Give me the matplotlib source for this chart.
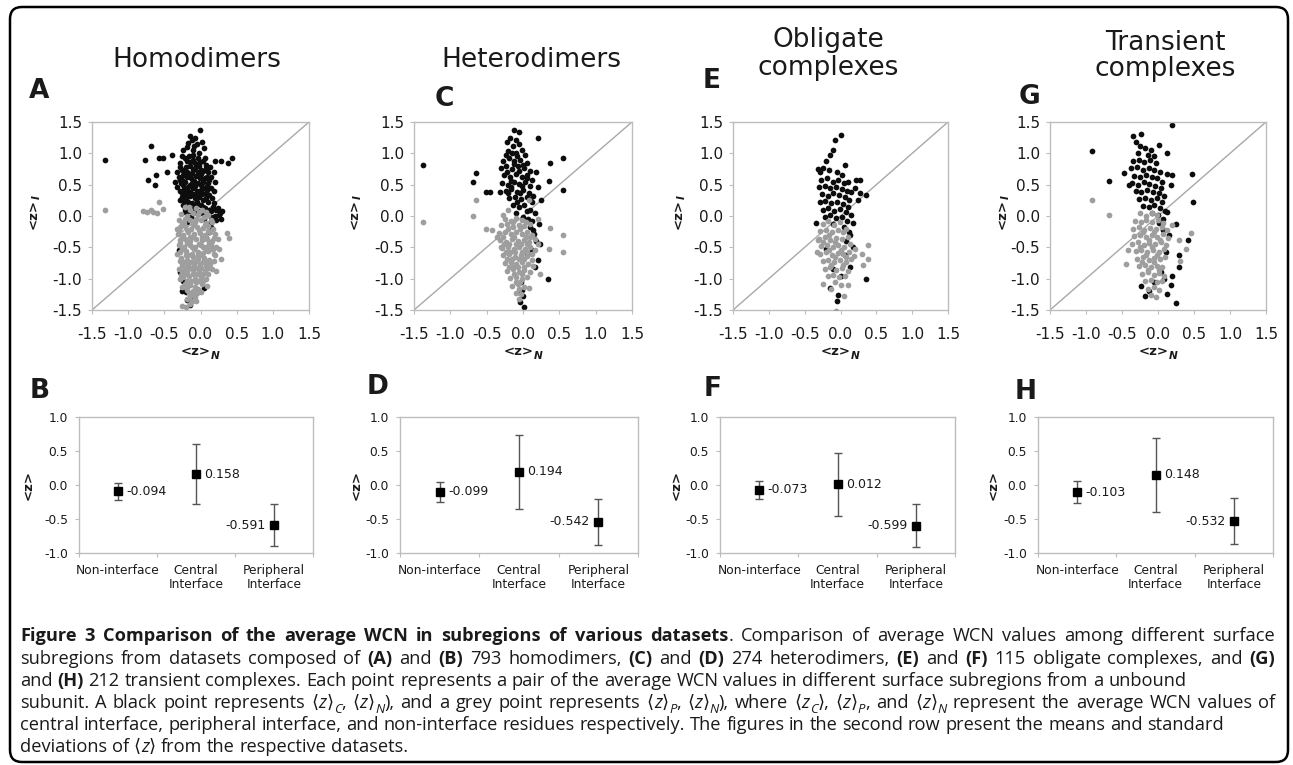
import re
import statistics
import matplotlib
matplotlib.use("Agg")
import matplotlib.pyplot as plt
from matplotlib.patches import FancyBboxPatch
from matplotlib.transforms import IdentityTransform

# ---------------------------------------------------------------- data
titles = [["Homodimers"], ["Heterodimers"], ["Obligate", "complexes"], ["Transient", "complexes"]]
top_letters = ["A", "C", "E", "G"]
bottom_letters = ["B", "D", "F", "H"]
axis_ticks = [-1.5, -1.0, -0.5, 0.0, 0.5, 1.0, 1.5]
axis_tick_labels = ["-1.5", "-1.0", "-0.5", "0.0", "0.5", "1.0", "1.5"]
mean_ticks = [-1.0, -0.5, 0.0, 0.5, 1.0]
mean_tick_labels = ["-1.0", "-0.5", "0.0", "0.5", "1.0"]
subregions = ["Non-interface", "Central\nInterface", "Peripheral\nInterface"]

# (<z>_N, <z>_C) black points
homo_central = [
    (-1.32, 0.89), (-0.68, 1.12), (-0.77, 0.89), (-0.58, 0.92), (-0.52, 0.92), (-0.72, 0.58), (-0.61, 0.66),
    (-0.63, 0.49), (-0.47, 0.71), (-0.39, 0.98), (0.20, 0.87), (0.29, 0.87), (0.43, 0.93), (0.38, 0.84),
    (0.18, 0.71), (0.27, 0.05), (0.20, 0.00), (-0.01, 1.38), (0.22, 0.10), (0.25, 0.02), (0.28, -0.04),
    (0.24, 0.13), (0.30, 0.08), (0.21, -0.06), (-0.15, 1.28), (-0.12, 1.22), (-0.08, 1.25), (-0.05, 1.15),
    (-0.19, 1.10), (0.02, 1.18), (-0.10, 1.05), (0.05, 1.08), (-0.24, 1.05), (-0.02, 1.00),
    (-0.28, 0.85), (-0.22, 0.92), (-0.16, 0.95), (-0.10, 0.90), (-0.04, 0.93), (0.03, 0.88), (0.08, 0.82),
    (-0.26, 0.74), (-0.20, 0.78), (-0.14, 0.80), (-0.08, 0.76), (-0.02, 0.79), (0.04, 0.72), (0.10, 0.70),
    (-0.30, 0.62), (-0.24, 0.66), (-0.18, 0.63), (-0.12, 0.68), (-0.06, 0.64), (0.00, 0.67), (0.06, 0.60),
    (0.12, 0.58), (-0.27, 0.52), (-0.21, 0.55), (-0.15, 0.50), (-0.09, 0.56), (-0.03, 0.52), (0.03, 0.54),
    (0.09, 0.48), (0.14, 0.45), (-0.29, 0.40), (-0.23, 0.43), (-0.17, 0.38), (-0.11, 0.44), (-0.05, 0.40),
    (0.01, 0.42), (0.07, 0.36), (0.12, 0.33), (-0.26, 0.30), (-0.20, 0.27), (-0.14, 0.32), (-0.08, 0.28),
    (-0.02, 0.30), (0.04, 0.25), (0.10, 0.22), (0.16, 0.28), (-0.24, 0.18), (-0.18, 0.15), (-0.12, 0.20),
    (-0.06, 0.16), (0.00, 0.18), (0.06, 0.12), (0.12, 0.10), (0.17, 0.15), (-0.22, 0.06), (-0.16, 0.08),
    (-0.10, 0.04), (-0.04, 0.08), (0.02, 0.05), (0.08, 0.02), (0.14, -0.02), (-0.19, 0.70), (-0.13, 0.60),
    (-0.07, 0.48), (-0.01, 0.60), (0.05, 0.45), (-0.25, 0.58), (-0.17, 0.46), (-0.11, 0.35), (-0.05, 0.22),
    (0.02, 0.35), (-0.20, 0.35), (-0.15, 0.86), (-0.07, 0.84), (0.00, 0.74), (-0.23, 0.24), (-0.32, 0.47),
    (-0.33, 0.70), (0.15, 0.62), (0.18, 0.40), (0.13, 0.78), (-0.18, -0.10), (0.10, -0.12), (0.12, -0.25),
    (0.08, -0.35), (0.15, -0.18), (-0.26, -1.20), (-0.19, -1.34), (-0.15, -1.42), (-0.24, -1.04),
    (-0.20, -1.22), (-0.12, -1.30), (-0.28, -0.90), (-0.30, -0.55), (0.05, -1.15),
    (-0.25, 0.95), (-0.19, 0.88), (-0.11, 0.97), (-0.01, 0.86), (0.06, 0.93), (-0.29, 0.78), (-0.23, 0.71),
    (-0.10, 0.73), (0.07, 0.77), (-0.28, 0.57), (-0.15, 0.64), (-0.04, 0.70), (0.09, 0.63), (-0.24, 0.49),
    (-0.12, 0.52), (0.00, 0.49), (0.11, 0.52), (-0.26, 0.36), (-0.14, 0.39), (-0.02, 0.37), (0.09, 0.41),
    (-0.28, 0.26), (-0.17, 0.22), (-0.05, 0.33), (0.07, 0.28), (-0.21, 0.11), (-0.09, 0.12), (0.03, 0.14),
    (0.15, 0.08), (-0.13, -0.02), (0.05, -0.05), (0.19, 0.20), (0.20, 0.55), (-0.35, 0.55), (-0.09, 1.12),
    (-0.17, 1.17),
]
# (<z>_N, <z>_P) grey points
homo_peripheral = [
    (-1.32, 0.09), (-0.79, 0.08), (-0.74, 0.07), (-0.69, 0.10), (-0.65, 0.06), (-0.60, 0.05), (-0.58, 0.23),
    (-0.52, 0.11), (0.36, -0.27), (0.40, -0.35), (0.25, -0.52), (0.29, -0.68), (0.22, -0.87), (-0.26, -1.43),
    (-0.20, -1.45), (-0.14, -1.40), (-0.22, 0.14), (-0.14, 0.10), (-0.06, 0.13), (0.02, 0.09), (-0.27, 0.03),
    (-0.19, 0.00), (-0.11, 0.04), (-0.03, 0.01), (0.05, -0.02), (0.11, 0.02), (-0.30, -0.07), (-0.23, -0.10),
    (-0.15, -0.06), (-0.07, -0.09), (0.01, -0.07), (0.08, -0.11), (0.14, -0.06), (-0.28, -0.18), (-0.21, -0.16),
    (-0.13, -0.20), (-0.05, -0.17), (0.03, -0.19), (0.10, -0.16), (0.17, -0.21), (-0.31, -0.28), (-0.24, -0.30),
    (-0.17, -0.26), (-0.09, -0.29), (-0.01, -0.27), (0.06, -0.30), (0.13, -0.26), (0.20, -0.29), (-0.29, -0.38),
    (-0.22, -0.36), (-0.14, -0.40), (-0.06, -0.37), (0.02, -0.39), (0.09, -0.36), (0.16, -0.40), (0.24, -0.37),
    (-0.30, -0.47), (-0.23, -0.50), (-0.15, -0.46), (-0.07, -0.49), (0.00, -0.47), (0.07, -0.50), (0.14, -0.46),
    (0.21, -0.49), (-0.28, -0.58), (-0.20, -0.56), (-0.12, -0.60), (-0.04, -0.57), (0.04, -0.59), (0.11, -0.56),
    (0.18, -0.60), (-0.27, -0.67), (-0.19, -0.70), (-0.11, -0.66), (-0.03, -0.69), (0.05, -0.67), (0.12, -0.70),
    (0.18, -0.72), (-0.25, -0.78), (-0.17, -0.76), (-0.09, -0.80), (-0.01, -0.77), (0.07, -0.79), (0.13, -0.76),
    (-0.26, -0.88), (-0.18, -0.90), (-0.10, -0.86), (-0.02, -0.89), (0.06, -0.87), (0.11, -0.92), (-0.24, -0.98),
    (-0.16, -0.96), (-0.08, -1.00), (0.00, -0.97), (0.07, -1.01), (-0.22, -1.08), (-0.14, -1.10), (-0.06, -1.06),
    (0.02, -1.09), (-0.18, -1.18), (-0.10, -1.20), (-0.03, -1.16), (-0.15, -1.28), (-0.08, -1.30), (-0.12, -1.36),
    (-0.26, -0.13), (-0.18, -0.23), (-0.10, -0.14), (-0.02, -0.23), (0.06, -0.14), (-0.26, -0.33), (-0.18, -0.43),
    (-0.10, -0.34), (-0.02, -0.44), (0.06, -0.34), (0.12, -0.43), (-0.25, -0.53), (-0.17, -0.63), (-0.09, -0.53),
    (-0.01, -0.63), (0.07, -0.54), (-0.23, -0.73), (-0.15, -0.83), (-0.07, -0.73), (0.01, -0.83), (0.09, -0.73),
    (-0.21, -0.93), (-0.13, -1.03), (-0.05, -0.93), (0.03, -1.03), (-0.19, -1.13), (-0.11, -1.23), (-0.05, -1.23),
    (-0.30, -0.85), (-0.33, -0.60), (-0.33, -0.20), (0.20, -0.62), (0.16, -0.84), (0.09, -1.12), (-0.28, -1.00),
    (-0.30, -0.23), (-0.22, -0.04), (-0.14, -0.33), (-0.06, -0.04), (0.02, -0.33), (0.10, -0.24), (-0.28, -0.43),
    (-0.20, -0.63), (-0.12, -0.50), (-0.04, -0.63), (0.04, -0.50), (0.15, -0.53), (-0.29, -0.72), (-0.21, -0.83),
    (-0.13, -0.73), (-0.05, -0.83), (0.03, -0.73), (0.10, -0.83), (-0.27, -0.94), (-0.19, -1.03), (-0.11, -0.93),
    (-0.03, -1.03), (0.04, -0.93), (-0.25, -1.13), (-0.16, -1.23), (-0.08, -1.13), (0.00, -1.22), (-0.18, -1.33),
    (-0.06, -1.36), (-0.02, 0.06), (0.07, 0.06), (-0.16, 0.15), (0.16, -0.10), (0.19, -0.35), (0.17, -0.52),
]
hetero_central = [
    (-1.38, 0.81), (-0.69, 0.55), (-0.65, 0.68), (-0.51, 0.39), (-0.46, 0.39), (-0.32, 0.38), (0.21, 1.25),
    (0.37, 0.85), (0.55, 0.93), (0.55, 0.41), (0.36, 0.56), (0.25, 0.25), (0.18, 0.71), (0.21, 0.46),
    (0.35, -1.01), (0.23, -0.44), (-0.05, 1.34), (-0.12, 1.37), (-0.18, 1.25), (-0.10, 1.22), (-0.22, 1.18),
    (-0.14, 1.12), (-0.06, 1.15), (-0.02, 1.05), (-0.20, 1.04), (-0.09, 1.00), (0.03, 0.97), (-0.27, 0.88),
    (-0.19, 0.92), (-0.12, 0.88), (-0.04, 0.90), (0.05, 0.85), (-0.30, 0.76), (-0.23, 0.79), (-0.15, 0.75),
    (-0.07, 0.80), (0.01, 0.76), (0.09, 0.72), (-0.26, 0.65), (-0.18, 0.62), (-0.10, 0.67), (-0.02, 0.63),
    (0.06, 0.66), (0.12, 0.58), (-0.29, 0.53), (-0.21, 0.50), (-0.13, 0.55), (-0.05, 0.51), (0.03, 0.54),
    (0.10, 0.48), (-0.24, 0.40), (-0.16, 0.43), (-0.08, 0.38), (0.00, 0.42), (0.08, 0.37), (0.14, 0.32),
    (-0.19, 0.28), (-0.11, 0.31), (-0.03, 0.27), (0.05, 0.30), (0.12, 0.22), (-0.14, 0.17), (-0.06, 0.14),
    (0.02, 0.18), (0.09, 0.10), (0.16, 0.05), (-0.09, 0.04), (0.00, -0.02), (0.07, -0.05), (0.13, -0.08),
    (0.10, -0.18), (0.15, -0.28), (0.18, -0.40), (0.12, -0.55), (0.20, -0.70), (0.17, -0.82), (0.22, -0.13),
    (-0.03, -1.05), (-0.02, -1.18), (0.00, -1.28), (-0.04, -1.38), (0.01, -1.45), (-0.06, -1.22), (0.14, -0.22),
    (0.05, -0.62), (-0.23, 0.97), (-0.15, 1.00), (-0.08, 0.95), (0.00, 0.82), (-0.22, 0.70), (-0.06, 0.72),
    (0.05, 0.60), (-0.17, 0.56), (-0.01, 0.48), (-0.20, 0.36), (-0.04, 0.36), (0.10, 0.27), (-0.08, 0.22),
    (0.05, 0.08), (-0.16, 0.46), (-0.12, 0.83),
]
hetero_peripheral = [
    (-1.38, -0.10), (-0.69, 0.00), (-0.65, 0.25), (-0.51, -0.21), (-0.42, -0.22), (0.37, -0.19), (0.55, -0.30),
    (0.55, -0.57), (0.36, -0.52), (0.23, -0.93), (-0.30, -0.49), (0.20, -0.05), (-0.20, 0.10), (-0.28, 0.02),
    (0.08, 0.26), (-0.25, -0.04), (-0.17, -0.08), (-0.09, -0.03), (-0.02, -0.07), (-0.30, -0.15), (-0.22, -0.13),
    (-0.14, -0.17), (-0.06, -0.14), (0.02, -0.16), (0.09, -0.12), (-0.33, -0.27), (-0.25, -0.25), (-0.17, -0.29),
    (-0.09, -0.26), (-0.01, -0.28), (0.06, -0.25), (0.13, -0.30), (-0.31, -0.38), (-0.23, -0.41), (-0.15, -0.37),
    (-0.07, -0.40), (0.01, -0.38), (0.08, -0.42), (0.16, -0.36), (-0.29, -0.51), (-0.21, -0.49), (-0.13, -0.53),
    (-0.05, -0.50), (0.03, -0.52), (0.10, -0.49), (0.17, -0.55), (-0.27, -0.63), (-0.19, -0.61), (-0.11, -0.65),
    (-0.03, -0.62), (0.05, -0.64), (0.12, -0.60), (-0.25, -0.75), (-0.17, -0.73), (-0.09, -0.77), (-0.01, -0.74),
    (0.07, -0.76), (0.14, -0.79), (-0.22, -0.87), (-0.14, -0.85), (-0.06, -0.89), (0.02, -0.86), (0.09, -0.90),
    (-0.18, -0.99), (-0.10, -0.97), (-0.02, -1.01), (0.06, -0.98), (-0.15, -1.11), (-0.07, -1.09), (0.01, -1.13),
    (0.08, -1.15), (-0.10, -1.23), (-0.03, -1.25), (-0.06, -1.33), (-0.21, -0.20), (-0.12, -0.33), (-0.04, -0.21),
    (0.04, -0.33), (-0.26, -0.45), (-0.18, -0.57), (-0.10, -0.45), (-0.02, -0.57), (0.06, -0.45), (-0.22, -0.69),
    (-0.14, -0.81), (-0.06, -0.69), (0.02, -0.81), (-0.12, -0.93), (-0.04, -1.05), (0.12, -0.70), (-0.36, -0.33),
    (0.20, -0.45), (-0.27, -0.33), (-0.19, -0.45), (-0.11, -0.57), (-0.03, -0.45), (0.05, -0.57), (-0.23, -0.57),
    (-0.15, -0.69), (-0.07, -0.81), (0.01, -0.69), (-0.19, -0.81), (-0.10, -1.05), (-0.02, -0.93), (0.09, -0.33),
    (-0.14, -0.10), (0.04, -0.10), (-0.06, -1.17),
]
oblig_central = [
    (0.01, 1.30), (-0.08, 1.21), (-0.15, 0.98), (-0.11, 1.06), (-0.20, 0.87), (0.06, 0.81), (-0.24, 0.77),
    (-0.31, 0.75), (-0.28, 0.70), (-0.16, 0.73), (-0.05, 0.70), (0.02, 0.66), (0.22, 0.57), (0.27, 0.57),
    (0.24, 0.25), (0.15, 0.38), (0.36, 0.33), (0.27, 0.37), (-0.34, -0.11), (0.36, -1.01), (0.17, -0.11),
    (0.13, -0.30), (0.20, 0.45), (0.10, 0.55), (-0.27, 0.58), (-0.19, 0.60), (-0.11, 0.55), (-0.03, 0.58),
    (0.05, 0.52), (-0.30, 0.46), (-0.22, 0.48), (-0.14, 0.44), (-0.06, 0.47), (0.02, 0.43), (0.09, 0.40),
    (-0.26, 0.35), (-0.18, 0.32), (-0.10, 0.36), (-0.02, 0.33), (0.06, 0.30), (0.12, 0.25), (-0.29, 0.22),
    (-0.21, 0.24), (-0.13, 0.20), (-0.05, 0.23), (0.03, 0.19), (0.10, 0.15), (-0.25, 0.10), (-0.17, 0.12),
    (-0.09, 0.08), (-0.01, 0.11), (0.07, 0.06), (0.14, 0.02), (-0.22, -0.01), (-0.14, 0.01), (-0.06, -0.03),
    (0.02, -0.01), (0.09, -0.08), (-0.11, -0.12), (0.05, -0.18), (0.12, -0.25), (0.08, -0.40), (-0.15, -1.15),
    (-0.03, -1.26), (-0.05, -1.35), (0.13, -0.82), (0.06, -0.62), (-0.10, -0.85), (0.00, -0.95), (-0.20, -0.52),
    (0.18, -0.50),
]
oblig_peripheral = [
    (0.38, -0.46), (0.38, -0.68), (-0.31, -0.38), (-0.24, -1.09), (-0.13, -1.17), (-0.06, -1.52), (0.10, -1.10),
    (0.05, -1.28), (-0.33, -0.58), (0.30, -0.60), (0.32, -0.78), (-0.25, -0.12), (-0.17, -0.08), (-0.09, -0.14),
    (-0.01, -0.10), (-0.28, -0.24), (-0.20, -0.22), (-0.12, -0.26), (-0.04, -0.23), (0.04, -0.25), (-0.30, -0.36),
    (-0.22, -0.34), (-0.14, -0.38), (-0.06, -0.35), (0.02, -0.37), (0.10, -0.33), (-0.27, -0.48), (-0.19, -0.46),
    (-0.11, -0.50), (-0.03, -0.47), (0.05, -0.49), (0.13, -0.45), (0.20, -0.52), (-0.28, -0.60), (-0.20, -0.58),
    (-0.12, -0.62), (-0.04, -0.59), (0.04, -0.61), (0.12, -0.57), (0.19, -0.64), (-0.25, -0.72), (-0.17, -0.70),
    (-0.09, -0.74), (-0.01, -0.71), (0.07, -0.73), (0.15, -0.69), (-0.22, -0.84), (-0.14, -0.82), (-0.06, -0.86),
    (0.02, -0.83), (0.10, -0.88), (-0.18, -0.96), (-0.10, -0.94), (-0.02, -0.98), (0.06, -0.95), (-0.08, -1.06),
    (0.00, -1.10), (-0.16, -0.30), (-0.08, -0.42), (0.00, -0.54), (-0.16, -0.54), (-0.08, -0.66), (0.08, -0.66),
    (-0.13, -0.78), (0.03, -0.78), (-0.24, -0.42), (0.08, -0.20),
]
trans_central = [
    (-0.91, 1.03), (-0.68, 0.56), (0.19, 1.46), (-0.35, 1.27), (-0.23, 1.31), (0.02, 1.14), (0.13, 1.01),
    (0.20, 0.66), (0.12, 0.67), (0.47, 0.67), (0.48, 0.23), (0.18, 0.49), (0.13, 0.07), (0.25, -0.12),
    (0.41, -0.38), (0.29, -0.63), (0.29, -0.82), (0.25, -1.39), (-0.40, 0.50), (-0.47, 0.68), (-0.30, 1.18),
    (-0.25, 1.12), (-0.18, 1.08), (-0.10, 1.05), (-0.28, 1.00), (-0.14, 0.98), (-0.05, 0.96), (-0.35, 0.88),
    (-0.27, 0.90), (-0.19, 0.86), (-0.11, 0.89), (-0.03, 0.84), (-0.37, 0.76), (-0.29, 0.78), (-0.21, 0.74),
    (-0.13, 0.77), (-0.05, 0.73), (0.03, 0.70), (-0.33, 0.64), (-0.25, 0.62), (-0.17, 0.66), (-0.09, 0.63),
    (-0.01, 0.60), (0.06, 0.55), (-0.36, 0.52), (-0.28, 0.50), (-0.20, 0.54), (-0.12, 0.51), (-0.04, 0.48),
    (0.04, 0.45), (-0.31, 0.40), (-0.23, 0.38), (-0.15, 0.42), (-0.07, 0.39), (0.01, 0.36), (0.08, 0.32),
    (-0.26, 0.27), (-0.18, 0.29), (-0.10, 0.25), (-0.02, 0.28), (0.05, 0.22), (-0.21, 0.16), (-0.13, 0.14),
    (-0.05, 0.17), (0.03, 0.12), (0.10, 0.08), (-0.08, 0.04), (0.00, 0.02), (0.07, -0.04), (-0.24, -1.12),
    (-0.12, -1.20), (0.04, -0.90), (0.09, -1.01), (0.11, -0.57), (0.07, -0.22), (0.02, -0.11), (0.15, -0.30),
    (-0.05, -1.05), (0.18, -1.10), (0.12, -1.25), (-0.18, -1.28), (0.20, -0.95),
]
trans_peripheral = [
    (-0.91, 0.25), (-0.68, 0.01), (-0.45, -0.77), (0.29, -0.38), (0.46, -0.27), (0.39, -0.52), (0.30, -0.72),
    (0.20, -0.15), (-0.42, -0.55), (-0.25, 0.04), (-0.17, 0.00), (-0.09, 0.05), (-0.01, 0.01), (-0.32, -0.08),
    (-0.24, -0.10), (-0.16, -0.06), (-0.08, -0.09), (0.00, -0.07), (0.07, -0.11), (-0.35, -0.20), (-0.27, -0.18),
    (-0.19, -0.22), (-0.11, -0.19), (-0.03, -0.21), (0.05, -0.17), (0.12, -0.23), (-0.33, -0.32), (-0.25, -0.30),
    (-0.17, -0.34), (-0.09, -0.31), (-0.01, -0.33), (0.07, -0.29), (0.14, -0.35), (-0.36, -0.44), (-0.28, -0.42),
    (-0.20, -0.46), (-0.12, -0.43), (-0.04, -0.45), (0.04, -0.41), (0.11, -0.47), (-0.31, -0.56), (-0.23, -0.54),
    (-0.15, -0.58), (-0.07, -0.55), (0.01, -0.57), (0.09, -0.53), (-0.29, -0.68), (-0.21, -0.66), (-0.13, -0.70),
    (-0.05, -0.67), (0.03, -0.69), (0.10, -0.65), (-0.26, -0.80), (-0.18, -0.78), (-0.10, -0.82), (-0.02, -0.79),
    (0.06, -0.81), (-0.22, -0.92), (-0.14, -0.90), (-0.06, -0.94), (0.02, -0.91), (0.09, -0.95), (-0.18, -1.04),
    (-0.10, -1.02), (-0.02, -1.06), (0.05, -1.03), (-0.14, -1.16), (-0.06, -1.14), (0.01, -1.18), (-0.10, -1.26),
    (-0.03, -1.29), (-0.21, -0.26), (-0.13, -0.38), (-0.05, -0.26), (0.03, -0.38), (-0.25, -0.50), (-0.17, -0.62),
    (-0.09, -0.50), (-0.01, -0.62), (-0.22, -0.74), (-0.14, -0.86), (-0.06, -0.74), (0.02, -0.86),
]

homo_means = [-0.094, 0.158, -0.591]
homo_sd = [0.13, 0.44, 0.31]
hetero_means = [-0.099, 0.194, -0.542]
hetero_sd = [0.145, 0.54, 0.34]
oblig_means = [-0.073, 0.012, -0.599]
oblig_sd = [0.13, 0.465, 0.315]
trans_means = [-0.103, 0.148, -0.532]
trans_sd = [0.165, 0.55, 0.34]

caption_lines = [
    "**Figure 3 Comparison of the average WCN in subregions of various datasets**. Comparison of average WCN values among different surface",
    "subregions from datasets composed of **(A)** and **(B)** 793 homodimers, **(C)** and **(D)** 274 heterodimers, **(E)** and **(F)** 115 obligate complexes, and **(G)**",
    "and **(H)** 212 transient complexes. Each point represents a pair of the average WCN values in different surface subregions from a unbound",
    "subunit. A black point represents \u27e8*z*\u27e9_{C}, \u27e8*z*\u27e9_{N}), and a grey point represents \u27e8*z*\u27e9_{P}, \u27e8*z*\u27e9_{N}), where \u27e8*z*_{C}\u27e9, \u27e8*z*\u27e9_{P}, and \u27e8*z*\u27e9_{N} represent the average WCN values of",
    "central interface, peripheral interface, and non-interface residues respectively. The figures in the second row present the means and standard",
    "deviations of \u27e8*z*\u27e9 from the respective datasets.",
]

# ---------------------------------------------------------------- layout (pixels, top-left origin)
W, H = 1293, 765
scatter_rects = [(92, 122, 309, 310), (414, 122, 632, 310), (733, 122, 948, 310), (1050, 122, 1266, 310)]
mean_rects = [(79, 417, 313, 553), (400, 417, 638, 553), (720, 417, 955, 553), (1038, 417, 1273, 553)]
title_pos = [[(197, 67)], [(531, 67)], [(828, 47), (828, 75)], [(1165, 50), (1165, 76)]]
top_letter_pos = [(39, 98), (444, 106), (712, 88), (1029, 104)]
bottom_letter_pos = [(40, 398), (378, 394), (713, 396), (1026, 399)]
scatter_ylabel_pos = [(33, 212), (354, 212), (678, 212), (1002, 212)]
scatter_xlabel_pos = [(200, 352), (523, 352), (840, 352), (1158, 352)]
mean_ylabel_pos = [(28, 485), (356, 485), (676, 485), (993, 485)]
caption_x0 = 20
caption_baselines = [641, 664, 686, 708, 730, 752]
caption_ends = [1275, 1275, 1093, 1275, 1222, 408]
caption_justify = [True, True, False, True, False, False]

INK = "#1a1a1a"
SPINE = "#bdbdbd"
plt.rcParams["font.family"] = ["DejaVu Sans"]

fig = plt.figure(figsize=(W / 100, H / 100), dpi=100)
renderer = fig.canvas.get_renderer()


def pax(r):
    x0, y0, x1, y1 = r
    return fig.add_axes([x0 / W, 1 - y1 / H, (x1 - x0) / W, (y1 - y0) / H])


def ftext(x, y, s, **kw):
    return fig.text(x / W, 1 - y / H, s, **kw)


def text_width(s, **kw):
    t1 = fig.text(0, 0, "|" + s + "|", **kw)
    w1 = t1.get_window_extent(renderer).width
    t1.remove()
    t2 = fig.text(0, 0, "||", **kw)
    w2 = t2.get_window_extent(renderer).width
    t2.remove()
    return w1 - w2


def zlabel(xc, yc, sub, vertical, size=9.5):
    main_kw = dict(fontsize=size, fontweight="bold", color=INK)
    sub_kw = dict(fontsize=size * 0.8, fontweight="bold", fontstyle="italic", color=INK)
    w = text_width("<z>", **main_kw)
    ws = text_width(sub, **sub_kw) if sub else 0.0
    tot = w + ws
    drop = size * 0.32 * 100 / 72
    if not vertical:
        x0 = xc - tot / 2
        ftext(x0 + w / 2, yc, "<z>", ha="center", va="center", **main_kw)
        if sub:
            ftext(x0 + w + ws / 2, yc + drop, sub, ha="center", va="center", **sub_kw)
    else:
        yb = yc + tot / 2
        ftext(xc, yb - w / 2, "<z>", rotation=90, ha="center", va="center", **main_kw)
        if sub:
            ftext(xc + drop, yb - w - ws / 2, sub, rotation=90, ha="center", va="center", **sub_kw)


def style_axes(ax):
    for sp in ax.spines.values():
        sp.set_color(SPINE)
        sp.set_linewidth(1.0)


scatter_sets = [(homo_central, homo_peripheral), (hetero_central, hetero_peripheral),
                (oblig_central, oblig_peripheral), (trans_central, trans_peripheral)]
mean_sets = [(homo_means, homo_sd), (hetero_means, hetero_sd), (oblig_means, oblig_sd), (trans_means, trans_sd)]

for k in range(4):
    # ---------- scatter panel
    ax = pax(scatter_rects[k])
    ax.plot([axis_ticks[0], axis_ticks[-1]], [axis_ticks[0], axis_ticks[-1]], color="#a8a8a8", lw=1.0, zorder=1)
    blk, gry = scatter_sets[k]
    ax.scatter([p[0] for p in blk], [p[1] for p in blk], s=17, c="#0d0d0d", linewidths=0, zorder=2)
    ax.scatter([p[0] for p in gry], [p[1] for p in gry], s=17, c="#9e9e9e", linewidths=0, zorder=3)
    ax.set_xlim(axis_ticks[0], axis_ticks[-1])
    ax.set_ylim(axis_ticks[0], axis_ticks[-1])
    ax.set_xticks(axis_ticks)
    ax.set_xticklabels(axis_tick_labels)
    ax.set_yticks(axis_ticks)
    ax.set_yticklabels(axis_tick_labels)
    ax.tick_params(axis="both", color=SPINE, length=3, labelsize=11, labelcolor=INK)
    ax.tick_params(axis="x", pad=9)
    ax.tick_params(axis="y", pad=4)
    style_axes(ax)
    zlabel(*scatter_ylabel_pos[k], "I", True)
    zlabel(*scatter_xlabel_pos[k], "N", False)

    # ---------- mean / sd panel
    bx = pax(mean_rects[k])
    means, sds = mean_sets[k]
    xs = list(range(len(subregions)))
    bx.errorbar(xs, means, yerr=sds, fmt="s", color="black", ms=5.5, ecolor="#555555",
                elinewidth=1.0, capsize=3, capthick=1.0, zorder=3)
    for i, m in enumerate(means):
        if i < 2:
            bx.annotate(f"{m:.3f}", (i, m), xytext=(6, 0), textcoords="offset points",
                        ha="left", va="center", fontsize=9, color=INK)
        else:
            bx.annotate(f"{m:.3f}", (i, m), xytext=(-6, 0), textcoords="offset points",
                        ha="right", va="center", fontsize=9, color=INK)
    bx.set_xlim(-0.5, len(subregions) - 0.5)
    bx.set_ylim(mean_ticks[0], mean_ticks[-1])
    bx.set_yticks(mean_ticks)
    bx.set_yticklabels(mean_tick_labels)
    bx.set_xticks([i - 0.5 for i in range(len(subregions) + 1)])
    bx.set_xticklabels([""] * (len(subregions) + 1))
    bx.set_xticks(xs, minor=True)
    bx.set_xticklabels(subregions, minor=True)
    bx.tick_params(axis="both", which="major", color=SPINE, length=3, labelsize=8.8, labelcolor=INK)
    bx.tick_params(axis="y", pad=5)
    bx.tick_params(axis="x", which="minor", length=0, labelsize=8.8, labelcolor=INK, pad=8)
    for lab in bx.get_xticklabels(minor=True):
        lab.set_linespacing(1.05)
    style_axes(bx)
    zlabel(*mean_ylabel_pos[k], "", True)

    # ---------- titles and panel letters
    for line, (tx, ty) in zip(titles[k], title_pos[k]):
        ftext(tx, ty, line, ha="center", va="baseline", fontsize=19, color=INK)
    ftext(*top_letter_pos[k], top_letters[k], ha="center", va="baseline", fontsize=19,
          fontweight="bold", color=INK)
    ftext(*bottom_letter_pos[k], bottom_letters[k], ha="center", va="baseline", fontsize=19,
          fontweight="bold", color=INK)

# ---------------------------------------------------------------- rounded frame
frame = FancyBboxPatch((10, 3), 1278, 755, boxstyle="round,pad=0,rounding_size=12",
                       transform=IdentityTransform(), fill=False, lw=1.8, ec="black")
fig.add_artist(frame)

# ---------------------------------------------------------------- caption
CAP_FAMILY = ["Open Sans", "DejaVu Sans"]
seg_re = re.compile(r"\*\*(.+?)\*\*|\*(.+?)\*|_\{(.+?)\}|([^*_]+)")


def parse(line):
    segs = []
    for m in seg_re.finditer(line):
        if m.group(1):
            segs.append((m.group(1), "b"))
        elif m.group(2):
            segs.append((m.group(2), "i"))
        elif m.group(3):
            segs.append((m.group(3), "sub"))
        else:
            segs.append((m.group(4), "r"))
    return segs


def words_of(segs):
    words = [[]]
    for t, st in segs:
        parts = t.split(" ")
        for j, p in enumerate(parts):
            if j > 0:
                words.append([])
            if p:
                words[-1].append((p, st))
    return [w for w in words if w]


def seg_kw(style, size):
    kw = dict(fontsize=size, family=CAP_FAMILY, color=INK)
    if style == "b":
        kw["fontweight"] = "bold"
    elif style == "i":
        kw["fontstyle"] = "italic"
    elif style == "sub":
        kw["fontstyle"] = "italic"
        kw["fontsize"] = size * 0.72
    return kw


def word_width(word, size):
    return sum(text_width(t, **seg_kw(st, size)) for t, st in word)


def natural_width(words, size):
    sp = text_width(" ", **seg_kw("r", size))
    return sum(word_width(w, size) for w in words) + sp * (len(words) - 1)


cap_words = [words_of(parse(l)) for l in caption_lines]
base = 10.0
fit = [(caption_ends[i] - caption_x0) / natural_width(cap_words[i], base)
       for i in range(len(cap_words)) if not caption_justify[i]]
cap_size = base * statistics.median(fit)
space_w = text_width(" ", **seg_kw("r", cap_size))

for i, words in enumerate(cap_words):
    yb = caption_baselines[i]
    widths = [word_width(w, cap_size) for w in words]
    if caption_justify[i] and len(words) > 1:
        gap = (caption_ends[i] - caption_x0 - sum(widths)) / (len(words) - 1)
    else:
        gap = space_w
    x = caption_x0
    for w, ww in zip(words, widths):
        for t, st in w:
            kw = seg_kw(st, cap_size)
            dy = cap_size * 0.30 * 100 / 72 if st == "sub" else 0
            ftext(x, yb + dy, t, ha="left", va="baseline", **kw)
            x += text_width(t, **kw)
        x += gap

fig.savefig("out.png", dpi=100)
